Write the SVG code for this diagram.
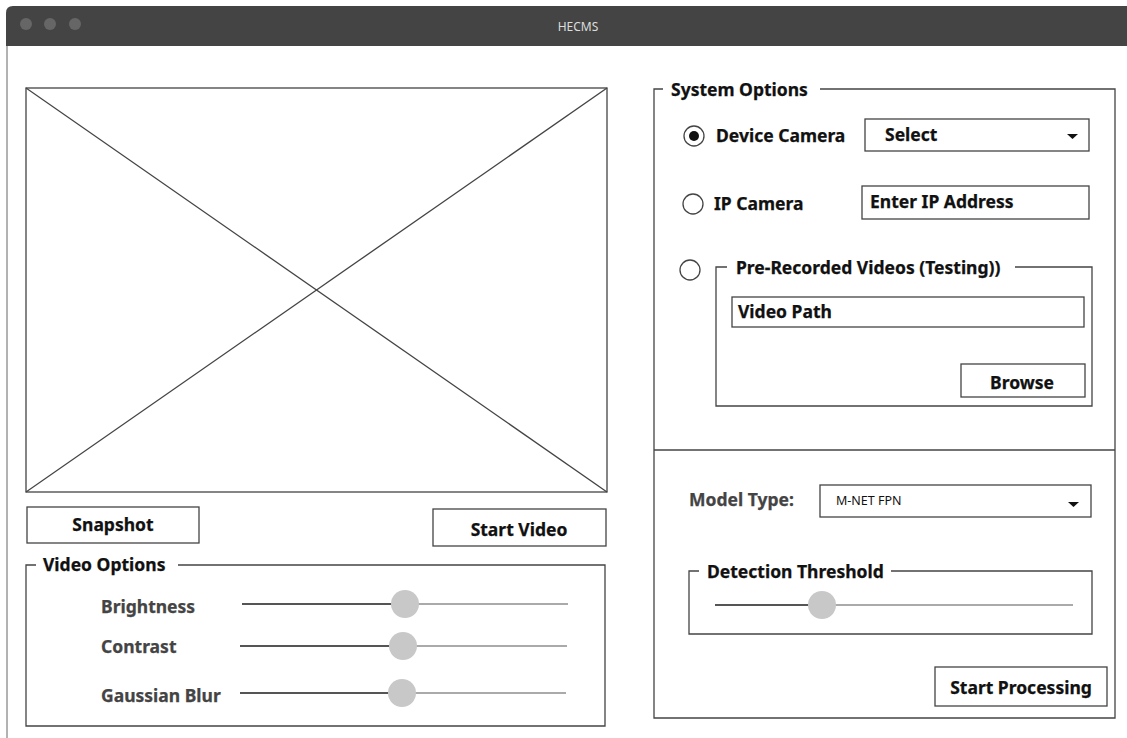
<svg xmlns="http://www.w3.org/2000/svg" width="1127" height="738" viewBox="0 0 1127 738">
<style>
.box{fill:#fff;stroke:#444;stroke-width:1.3}
.line{stroke:#444;stroke-width:1.3;fill:none}
.t{font-family:"Noto Sans","Liberation Sans",sans-serif;font-weight:bold;font-size:17.5px;fill:#111;stroke:#111;stroke-width:0.25}
.g{fill:#444;stroke:#444}
.trackd{stroke:#555;stroke-width:2}
.trackl{stroke:#aaa;stroke-width:2}
.knob{fill:#c8c8c8}
.mid{text-anchor:middle}
</style>
<rect width="1127" height="738" fill="#fff"/>
<g id="window">
<path d="M6 46 V13 Q6 6 13 6 H1127 V46 Z" fill="#444"/>
<circle cx="26" cy="24" r="6" fill="#666"/>
<circle cx="50" cy="24" r="6" fill="#666"/>
<circle cx="75" cy="24" r="6" fill="#666"/>
<text x="578" y="31" text-anchor="middle" style="font-family:'Noto Sans','Liberation Sans',sans-serif;font-size:12px;fill:#ddd">HECMS</text>
<line x1="7" y1="46" x2="7" y2="738" stroke="#666" stroke-width="1"/>
</g>
<g id="video-placeholder">
<rect class="box" x="26" y="88" width="581" height="404"/>
<line class="line" x1="26" y1="88" x2="607" y2="492"/>
<line class="line" x1="607" y1="88" x2="26" y2="492"/>
</g>
<g id="snapshot-btn">
<rect class="box" x="27" y="507" width="172" height="36"/>
<text class="t mid" x="113" y="531">Snapshot</text>
</g>
<g id="start-video-btn">
<rect class="box" x="433" y="509" width="173" height="37"/>
<text class="t mid" x="519" y="536">Start Video</text>
</g>
<g id="video-options">
<path class="line" d="M36 565 H26 V726 H605 V565 H178"/>
<text class="t" x="43" y="571">Video Options</text>
<text class="t g" x="101" y="613">Brightness</text>
<line class="trackd" x1="242" y1="604" x2="395" y2="604"/>
<line class="trackl" x1="415" y1="604" x2="568" y2="604"/>
<circle class="knob" cx="405" cy="604" r="14"/>
<text class="t g" x="101" y="653">Contrast</text>
<line class="trackd" x1="240" y1="646" x2="393" y2="646"/>
<line class="trackl" x1="413" y1="646" x2="567" y2="646"/>
<circle class="knob" cx="403" cy="646" r="14"/>
<text class="t g" x="101" y="702">Gaussian Blur</text>
<line class="trackd" x1="240" y1="693" x2="392" y2="693"/>
<line class="trackl" x1="412" y1="693" x2="566" y2="693"/>
<circle class="knob" cx="402" cy="693" r="14"/>
</g>
<g id="system-options">
<path class="line" d="M663 89 H654 V718 H1115 V89 H820"/>
<line class="line" x1="654" y1="450" x2="1115" y2="450"/>
<text class="t" x="671" y="96">System Options</text>
</g>
<g id="device-camera">
<circle cx="694" cy="136" r="10" fill="#fff" stroke="#444" stroke-width="1.3"/>
<circle cx="694" cy="136" r="5" fill="#111"/>
<text class="t" x="716" y="142">Device Camera</text>
<rect class="box" x="865" y="119" width="224" height="32"/>
<text class="t" x="885" y="141">Select</text>
<path d="M1067 134 H1078 L1072.5 139 Z" fill="#111"/>
</g>
<g id="ip-camera">
<circle cx="693" cy="204" r="10" fill="#fff" stroke="#444" stroke-width="1.3"/>
<text class="t" x="714" y="210">IP Camera</text>
<rect class="box" x="862" y="186" width="227" height="33"/>
<text class="t" x="870" y="208">Enter IP Address</text>
</g>
<g id="pre-recorded">
<circle cx="690" cy="270" r="10" fill="#fff" stroke="#444" stroke-width="1.3"/>
<path class="line" d="M727 267 H716 V406 H1092 V267 H1015"/>
<text class="t" x="736" y="274">Pre-Recorded Videos (Testing))</text>
<rect class="box" x="732" y="297" width="352" height="30"/>
<text class="t" x="738" y="318">Video Path</text>
<rect class="box" x="961" y="364" width="124" height="33"/>
<text class="t mid" x="1022" y="389">Browse</text>
</g>
<g id="model-type">
<text class="t g" x="689" y="506">Model Type:</text>
<rect class="box" x="820" y="485" width="271" height="32"/>
<text x="836" y="505" style="font-family:'Noto Sans','Liberation Sans',sans-serif;font-size:12.5px;fill:#111">M-NET FPN</text>
<path d="M1068 502 H1079 L1073.5 507 Z" fill="#111"/>
</g>
<g id="detection-threshold">
<path class="line" d="M699 571 H689 V634 H1092 V571 H891"/>
<text class="t" x="707" y="578">Detection Threshold</text>
<line class="trackd" x1="715" y1="605" x2="812" y2="605"/>
<line class="trackl" x1="832" y1="605" x2="1073" y2="605"/>
<circle class="knob" cx="822" cy="605" r="14"/>
</g>
<g id="start-processing-btn">
<rect class="box" x="935" y="667" width="172" height="39"/>
<text class="t mid" x="1021" y="694">Start Processing</text>
</g>
<g id="connectors"/>
</svg>
